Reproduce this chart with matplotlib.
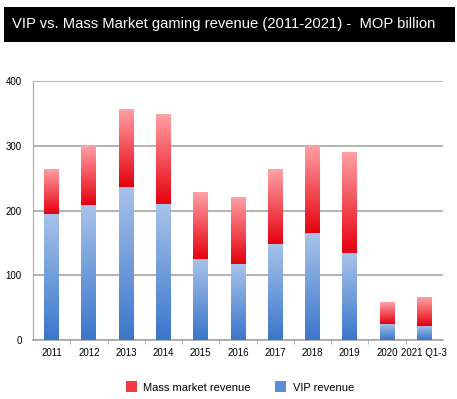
import numpy as np
import matplotlib
matplotlib.use("Agg")
import matplotlib.pyplot as plt
from matplotlib.colors import LinearSegmentedColormap
from matplotlib.patches import Rectangle, Patch

plt.rcParams["font.family"] = ["Liberation Sans", "DejaVu Sans"]

years = ["2011", "2012", "2013", "2014", "2015", "2016", "2017", "2018", "2019", "2020", "2021 Q1-3"]
vip = [195, 209, 237, 211, 126, 117, 149, 165, 134, 25, 22]
mass = [70, 92, 121, 138, 103, 104, 115, 135, 157, 34, 44]

title = "VIP vs. Mass Market gaming revenue (2011-2021) -  MOP billion"

# gradient colormaps: value 0 = bottom (dark), 1 = top (light)
blue_cmap = LinearSegmentedColormap.from_list("vip", ["#3a76cb", "#a8c3ea"])
red_cmap = LinearSegmentedColormap.from_list("mass", ["#e5000e", "#ffa2a6"])

fig = plt.figure(figsize=(4.57, 3.99), dpi=100)

# black title banner
fig.patches.append(Rectangle((0.009, 0.895), 0.987, 0.088, transform=fig.transFigure,
                             facecolor="black", edgecolor="none", zorder=0))
fig.text(0.026, 0.939, title, color="white", fontsize=10.6, va="center", ha="left")

ax = fig.add_axes([0.0722, 0.148, 0.897, 0.648])

x = np.arange(len(years))
width = 0.4
grad = np.linspace(0, 1, 256).reshape(-1, 1)

bars_vip = ax.bar(x, vip, width, color="#6f9bdc", edgecolor="none", zorder=2)
bars_mass = ax.bar(x, mass, width, bottom=vip, color="#f4545c", edgecolor="none", zorder=2)

# paint a vertical gradient inside every bar segment
for bars, cmap in [(bars_vip, blue_cmap), (bars_mass, red_cmap)]:
    for b in bars:
        x0, y0 = b.get_x(), b.get_y()
        im = ax.imshow(grad, cmap=cmap, origin="lower", aspect="auto",
                       extent=[x0, x0 + b.get_width(), y0, y0 + b.get_height()], zorder=3)
        im.set_clip_path(b)

ax.set_xlim(-0.5, len(years) - 0.5)
ax.set_ylim(0, 400)
ax.set_yticks([0, 100, 200, 300, 400])
ax.yaxis.grid(True, color="#a6a6a6", linewidth=1.2, zorder=1)
ax.set_axisbelow(True)

for side in ["top", "right"]:
    ax.spines[side].set_visible(False)
ax.spines["left"].set_color("#a6a6a6")
ax.spines["bottom"].set_color("#a6a6a6")
ax.spines["bottom"].set_linewidth(1.2)

ax.set_xticks(x)
ax.set_xticklabels(years, fontsize=7)
ax.set_xticks(np.arange(len(years) - 1) + 0.5, minor=True)
ax.tick_params(axis="x", which="major", length=0, pad=6)
ax.tick_params(axis="x", which="minor", length=3, color="#a6a6a6", direction="out")
ax.tick_params(axis="y", length=0, pad=8, labelsize=7)

handles = [Patch(facecolor="#f03a44", label="Mass market revenue"),
           Patch(facecolor="#5b8ed8", label="VIP revenue")]
fig.legend(handles=handles, loc="center", bbox_to_anchor=(0.525, 0.03), ncol=2,
           frameon=False, fontsize=8, handlelength=1.0, handleheight=1.1,
           columnspacing=2.2, handletextpad=0.6)

plt.savefig("out.png", dpi=100)
